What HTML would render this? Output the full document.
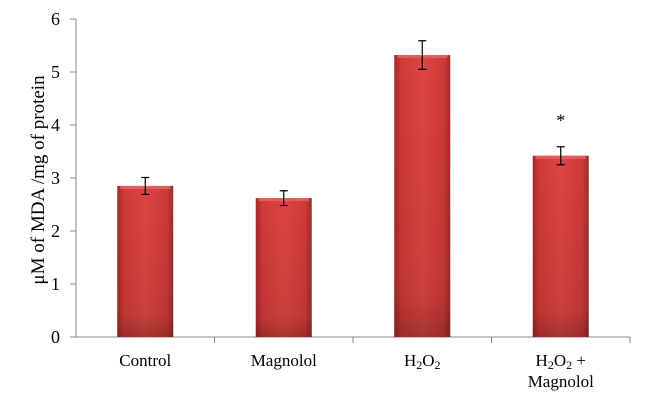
<!DOCTYPE html>
<html><head><meta charset="utf-8"><style>
body{margin:0;background:#fff;}
svg text{font-family:"Liberation Serif",serif;fill:#000;}
</style></head><body>
<svg width="647" height="406">
<defs>
<linearGradient id="bg" x1="0" x2="1" y1="0" y2="0">
<stop offset="0" stop-color="#a22a2a"/><stop offset="0.12" stop-color="#cf3a38"/>
<stop offset="0.5" stop-color="#dc4543"/><stop offset="0.88" stop-color="#cf3a38"/><stop offset="1" stop-color="#a22a2a"/>
</linearGradient>
<linearGradient id="vg" x1="0" x2="0" y1="0" y2="1">
<stop offset="0" stop-color="#000" stop-opacity="0"/><stop offset="0.85" stop-color="#000" stop-opacity="0.08"/><stop offset="1" stop-color="#000" stop-opacity="0.25"/>
</linearGradient>
</defs>
<g id="chart"></g>
</svg>
<script>
const categories=["Control","Magnolol","H2O2","H2O2 + Magnolol"];
const values=[2.85,2.62,5.32,3.42];
const errors=[0.16,0.14,0.27,0.17];
const yTicks=[0,1,2,3,4,5,6];
const NS="http://www.w3.org/2000/svg";
const g=document.getElementById('chart');
const x0=76,band=138.5,yBase=337,yTop=19,yMax=6;
const y=v=>yBase-(v/yMax)*(yBase-yTop);
const cx=i=>x0+band*(i+0.5);
function mk(t,a){const e=document.createElementNS(NS,t);for(const k in a)e.setAttribute(k,a[k]);g.appendChild(e);return e;}
let ax=mk('line',{x1:x0,x2:x0,y1:yTop,y2:yBase,stroke:'#888'});


let xa=mk('line',{x1:x0,x2:x0+band*4,y1:yBase,y2:yBase,stroke:'#888'});


yTicks.forEach(t=>{
 let l=mk('line',{x1:70,x2:x0,y1:y(t),y2:y(t),stroke:'#888'});
 
 
 let tx=mk('text',{x:60,y:y(t)+6,'text-anchor':'end','font-size':18});
 tx.textContent=t;
 
 
});
for(let i=1;i<=4;i++){let l=mk('line',{x1:x0+band*i,x2:x0+band*i,y1:yBase,y2:yBase+6,stroke:'#888'});
 
 }
const bw=56;
values.forEach((v,i)=>{
 const c=cx(i);
 let r=mk('rect',{x:c-bw/2,y:y(v),width:bw,height:yBase-y(v),fill:'url(#bg)'});
 
 
 let s=mk('rect',{x:c-bw/2,y:y(v),width:bw,height:yBase-y(v),fill:'url(#vg)'});
 
 
 let hl=mk('rect',{x:c-bw/2+3,y:y(v),width:bw-6,height:3,fill:'#e35e5a'});
 
 
 const e=errors[i],t=y(v+e),b=y(v-e);
 let eb=mk('path',{d:`M${c} ${t}V${b}M${c-4} ${t}H${c+4}M${c-4} ${b}H${c+4}`,stroke:'#000','stroke-width':1.2,fill:'none'});
 
 
});
const labels=[["Control"],["Magnolol"],["H<tspan font-size='12' dy='3'>2</tspan><tspan dy='-3'>O</tspan><tspan font-size='12' dy='3'>2</tspan>"],["H<tspan font-size='12' dy='3'>2</tspan><tspan dy='-3'>O</tspan><tspan font-size='12' dy='3'>2</tspan><tspan dy='-3'> +</tspan>","Magnolol"]];
labels.forEach((ls,i)=>{ls.forEach((s,j)=>{
 let t=mk('text',{x:cx(i),y:366+j*21,'text-anchor':'middle','font-size':17});
 t.innerHTML=s;
 
 
});});
let st=mk('text',{x:cx(3),y:y(values[3]+errors[3])-20,'text-anchor':'middle','font-size':18});
st.textContent='*';


let yt=mk('text',{x:0,y:0,'text-anchor':'middle','font-size':19,transform:'translate(44,180) rotate(-90)'});
yt.textContent='μM of MDA /mg of protein';


</script>
</body></html>
